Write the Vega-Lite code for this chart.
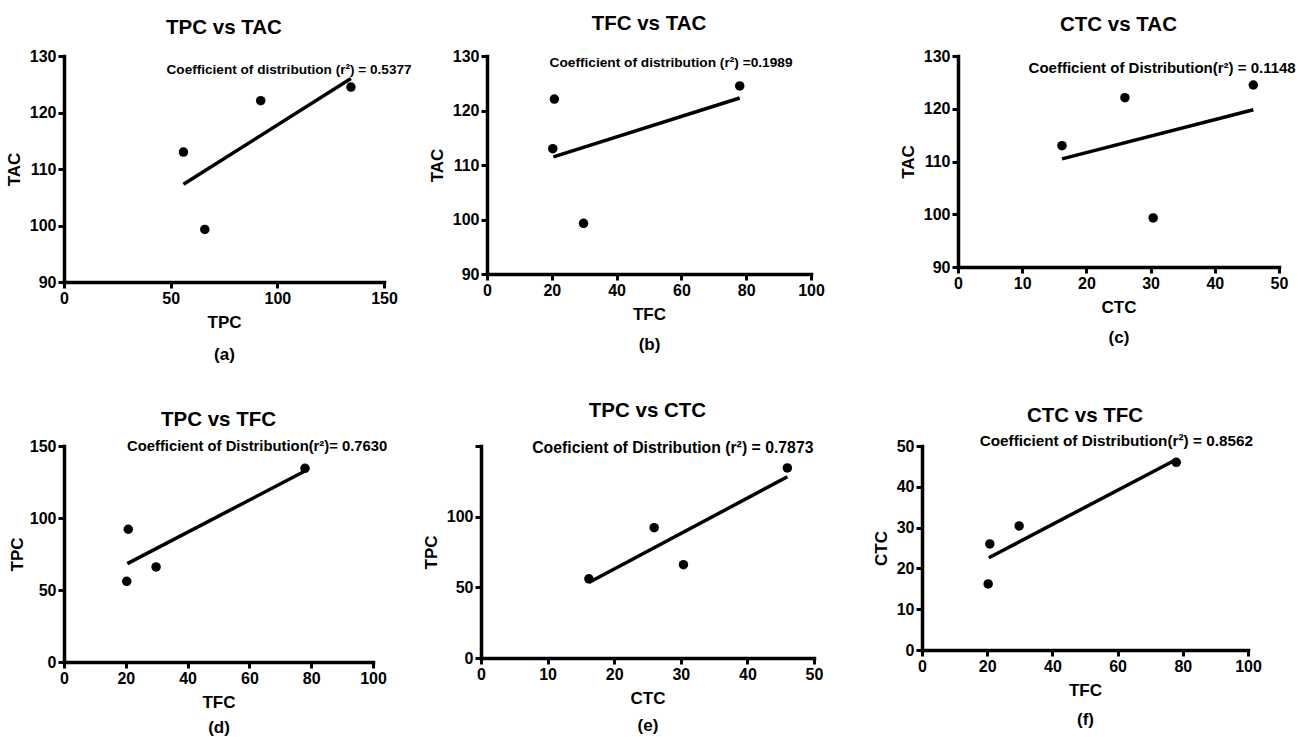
{
  "$schema": "https://vega.github.io/schema/vega-lite/v6.json",
  "background": "white",
  "padding": {"left": 5, "top": 13, "right": 5, "bottom": 2},
  "datasets": {
    "samples": [
      {"TPC": 56, "TFC": 20.3, "CTC": 16.2, "TAC": 113},
      {"TPC": 92.2, "TFC": 20.8, "CTC": 26, "TAC": 122.1},
      {"TPC": 66, "TFC": 29.8, "CTC": 30.4, "TAC": 99.3},
      {"TPC": 134.5, "TFC": 78, "CTC": 46, "TAC": 124.5}
    ],
    "fits": [
      {"panel": "a", "TPC": 56, "TAC": 107.3},
      {"panel": "a", "TPC": 134.5, "TAC": 126.0},
      {"panel": "b", "TFC": 20.5, "TAC": 111.5},
      {"panel": "b", "TFC": 78, "TAC": 122.3},
      {"panel": "c", "CTC": 16.2, "TAC": 110.5},
      {"panel": "c", "CTC": 46, "TAC": 119.8},
      {"panel": "d", "TFC": 20.5, "TPC": 68.3},
      {"panel": "d", "TFC": 78, "TPC": 132.6},
      {"panel": "e", "CTC": 16.2, "TPC": 53.4},
      {"panel": "e", "CTC": 46, "TPC": 128.2},
      {"panel": "f", "TFC": 20.5, "CTC": 22.6},
      {"panel": "f", "TFC": 78, "CTC": 46.7}
    ]
  },
  "spacing": 39,
  "vconcat": [
    {
      "spacing": 74,
      "hconcat": [
        {
          "bounds": "flush",
          "spacing": 103,
          "hconcat": [
            {
              "width": 320, "height": 226,
              "title": {"text": "TPC vs TAC", "offset": 10},
              "layer": [
                {"data": {"name": "samples"}, "mark": {"type": "point", "filled": true, "color": "black", "opacity": 1, "size": 90},
                  "encoding": {
                    "x": {"field": "TPC", "type": "quantitative", "scale": {"domain": [0, 150], "nice": false}, "axis": {"values": [0, 50, 100, 150], "title": ["TPC", "(a)"], "titleLineHeight": 32}},
                    "y": {"field": "TAC", "type": "quantitative", "scale": {"domain": [90, 130], "nice": false, "zero": false}, "axis": {"values": [90, 100, 110, 120, 130], "title": "TAC"}}}},
                {"data": {"name": "fits"}, "transform": [{"filter": "datum.panel == 'a'"}], "mark": {"type": "line", "color": "black", "strokeWidth": 3.5},
                  "encoding": {"x": {"field": "TPC", "type": "quantitative"}, "y": {"field": "TAC", "type": "quantitative"}}},
                {"data": {"values": [{"label": "Coefficient of distribution (r²) = 0.5377"}]}, "mark": {"type": "text", "fontWeight": "bold", "fontSize": 13.6, "color": "black"},
                  "encoding": {"x": {"datum": 105.5, "type": "quantitative"}, "y": {"datum": 127.5, "type": "quantitative"}, "text": {"field": "label"}}}
              ]
            },
            {
              "width": 324, "height": 218,
              "title": {"text": "TFC vs TAC", "offset": 14},
              "layer": [
                {"data": {"name": "samples"}, "mark": {"type": "point", "filled": true, "color": "black", "opacity": 1, "size": 90},
                  "encoding": {
                    "x": {"field": "TFC", "type": "quantitative", "scale": {"domain": [0, 100], "nice": false}, "axis": {"values": [0, 20, 40, 60, 80, 100], "title": ["TFC", "(b)"], "titleLineHeight": 30}},
                    "y": {"field": "TAC", "type": "quantitative", "scale": {"domain": [90, 130], "nice": false, "zero": false}, "axis": {"values": [90, 100, 110, 120, 130], "title": "TAC"}}}},
                {"data": {"name": "fits"}, "transform": [{"filter": "datum.panel == 'b'"}], "mark": {"type": "line", "color": "black", "strokeWidth": 3.5},
                  "encoding": {"x": {"field": "TFC", "type": "quantitative"}, "y": {"field": "TAC", "type": "quantitative"}}},
                {"data": {"values": [{"label": "Coefficient of distribution (r²) =0.1989"}]}, "mark": {"type": "text", "fontWeight": "bold", "fontSize": 13.7, "color": "black"},
                  "encoding": {"x": {"datum": 56.8, "type": "quantitative"}, "y": {"datum": 128.7, "type": "quantitative"}, "text": {"field": "label"}}}
              ]
            }
          ]
        },
        {
          "width": 321, "height": 211,
          "title": {"text": "CTC vs TAC", "offset": 13},
          "layer": [
            {"data": {"name": "samples"}, "mark": {"type": "point", "filled": true, "color": "black", "opacity": 1, "size": 90},
              "encoding": {
                "x": {"field": "CTC", "type": "quantitative", "scale": {"domain": [0, 50], "nice": false}, "axis": {"values": [0, 10, 20, 30, 40, 50], "title": ["CTC", "(c)"], "titleLineHeight": 30}},
                "y": {"field": "TAC", "type": "quantitative", "scale": {"domain": [90, 130], "nice": false, "zero": false}, "axis": {"values": [90, 100, 110, 120, 130], "title": "TAC"}}}},
            {"data": {"name": "fits"}, "transform": [{"filter": "datum.panel == 'c'"}], "mark": {"type": "line", "color": "black", "strokeWidth": 3.5},
              "encoding": {"x": {"field": "CTC", "type": "quantitative"}, "y": {"field": "TAC", "type": "quantitative"}}},
            {"data": {"values": [{"label": "Coefficient of Distribution(r²)  = 0.1148"}]}, "mark": {"type": "text", "fontWeight": "bold", "fontSize": 15, "color": "black"},
              "encoding": {"x": {"datum": 31.8, "type": "quantitative"}, "y": {"datum": 127.7, "type": "quantitative"}, "text": {"field": "label"}}}
          ]
        }
      ]
    },
    {
      "bounds": "flush",
      "spacing": 108,
      "hconcat": [
        {
          "width": 309, "height": 216,
          "title": {"text": "TPC vs TFC", "offset": 8},
          "layer": [
            {"data": {"name": "samples"}, "mark": {"type": "point", "filled": true, "color": "black", "opacity": 1, "size": 90},
              "encoding": {
                "x": {"field": "TFC", "type": "quantitative", "scale": {"domain": [0, 100], "nice": false}, "axis": {"values": [0, 20, 40, 60, 80, 100], "title": ["TFC", "(d)"], "titleLineHeight": 25}},
                "y": {"field": "TPC", "type": "quantitative", "scale": {"domain": [0, 150], "nice": false}, "axis": {"values": [0, 50, 100, 150], "title": "TPC", "titlePadding": 3}}}},
            {"data": {"name": "fits"}, "transform": [{"filter": "datum.panel == 'd'"}], "mark": {"type": "line", "color": "black", "strokeWidth": 3.5},
              "encoding": {"x": {"field": "TFC", "type": "quantitative"}, "y": {"field": "TPC", "type": "quantitative"}}},
            {"data": {"values": [{"label": "Coefficient of Distribution(r²)= 0.7630"}]}, "mark": {"type": "text", "fontWeight": "bold", "fontSize": 14.8, "color": "black"},
              "encoding": {"x": {"datum": 62.5, "type": "quantitative"}, "y": {"datum": 149.3, "type": "quantitative"}, "text": {"field": "label"}}}
          ]
        },
        {
          "width": 333, "height": 212,
          "title": {"text": "TPC vs CTC", "offset": 18},
          "layer": [
            {"data": {"name": "samples"}, "mark": {"type": "point", "filled": true, "color": "black", "opacity": 1, "size": 90},
              "encoding": {
                "x": {"field": "CTC", "type": "quantitative", "scale": {"domain": [0, 50], "nice": false}, "axis": {"values": [0, 10, 20, 30, 40, 50], "title": ["CTC", "(e)"], "titleLineHeight": 27}},
                "y": {"field": "TPC", "type": "quantitative", "scale": {"domain": [0, 150], "nice": false}, "axis": {"values": [0, 50, 100, 150], "labelExpr": "datum.value == 150 ? '' : datum.label", "title": "TPC"}}}},
            {"data": {"name": "fits"}, "transform": [{"filter": "datum.panel == 'e'"}], "mark": {"type": "line", "color": "black", "strokeWidth": 3.5},
              "encoding": {"x": {"field": "CTC", "type": "quantitative"}, "y": {"field": "TPC", "type": "quantitative"}}},
            {"data": {"values": [{"label": "Coeficient of Distribution (r²) = 0.7873"}]}, "mark": {"type": "text", "fontWeight": "bold", "fontSize": 15.8, "color": "black"},
              "encoding": {"x": {"datum": 28.8, "type": "quantitative"}, "y": {"datum": 148.6, "type": "quantitative"}, "text": {"field": "label"}}}
          ]
        },
        {
          "width": 326, "height": 204,
          "title": {"text": "CTC vs TFC", "offset": 8},
          "layer": [
            {"data": {"name": "samples"}, "mark": {"type": "point", "filled": true, "color": "black", "opacity": 1, "size": 90},
              "encoding": {
                "x": {"field": "TFC", "type": "quantitative", "scale": {"domain": [0, 100], "nice": false}, "axis": {"values": [0, 20, 40, 60, 80, 100], "title": ["TFC", "(f)"], "titleLineHeight": 29}},
                "y": {"field": "CTC", "type": "quantitative", "scale": {"domain": [0, 50], "nice": false}, "axis": {"values": [0, 10, 20, 30, 40, 50], "title": "CTC"}}}},
            {"data": {"name": "fits"}, "transform": [{"filter": "datum.panel == 'f'"}], "mark": {"type": "line", "color": "black", "strokeWidth": 3.5},
              "encoding": {"x": {"field": "TFC", "type": "quantitative"}, "y": {"field": "CTC", "type": "quantitative"}}},
            {"data": {"values": [{"label": "Coefficient of Distribution(r²) = 0.8562"}]}, "mark": {"type": "text", "fontWeight": "bold", "fontSize": 15.3, "color": "black"},
              "encoding": {"x": {"datum": 59.6, "type": "quantitative"}, "y": {"datum": 51.2, "type": "quantitative"}, "text": {"field": "label"}}}
          ]
        }
      ]
    }
  ],
  "config": {
    "font": "Liberation Sans",
    "view": {"stroke": null},
    "axis": {
      "grid": false,
      "domainColor": "black", "domainWidth": 3.5, "domainCap": "square",
      "tickColor": "black", "tickWidth": 3, "tickSize": 6,
      "labelFont": "Liberation Sans", "labelFontWeight": "bold", "labelFontSize": 16, "labelColor": "black", "labelPadding": 2, "labelFlush": false,
      "titleFont": "Liberation Sans", "titleFontWeight": "bold", "titleFontSize": 17, "titleColor": "black"
    },
    "axisY": {"titlePadding": 6},
    "axisX": {"titlePadding": 8},
    "title": {"font": "Liberation Sans", "fontSize": 20.5, "fontWeight": "bold", "color": "black", "offset": 12}
  }
}
